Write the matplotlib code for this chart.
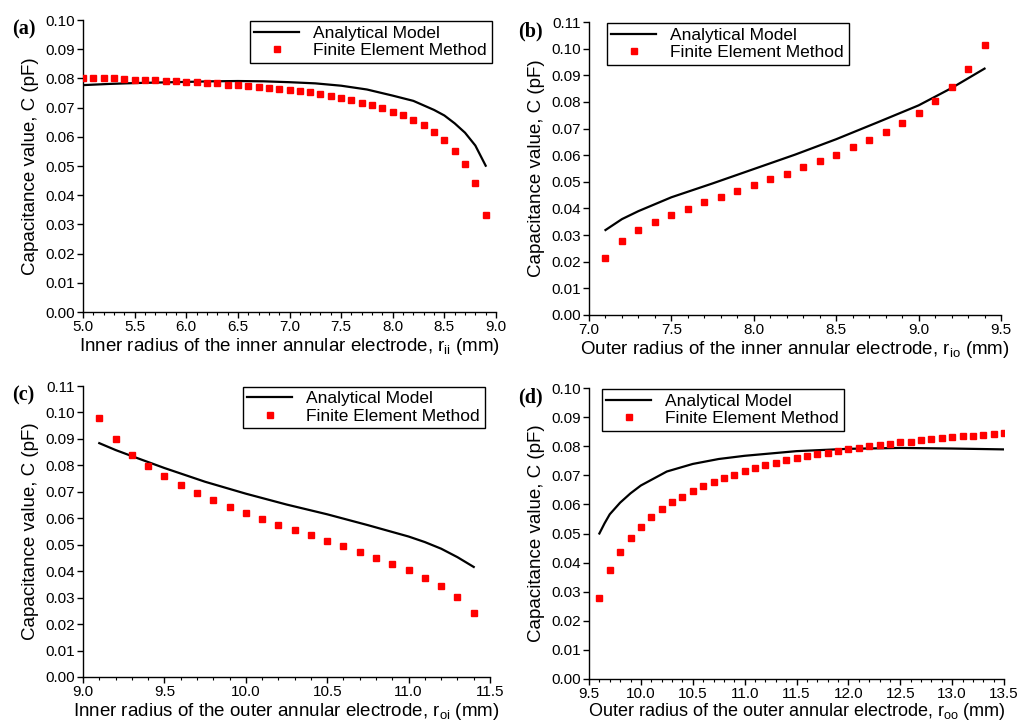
import matplotlib
matplotlib.use("Agg")
import matplotlib.pyplot as plt
from matplotlib.ticker import MultipleLocator, FormatStrFormatter

plt.rcParams['font.family'] = ['Liberation Sans', 'DejaVu Sans']
plt.rcParams['mathtext.fontset'] = 'custom'
plt.rcParams['mathtext.rm'] = 'Liberation Sans'
plt.rcParams['mathtext.it'] = 'Liberation Sans'
plt.rcParams['mathtext.default'] = 'regular'

# ---------------- data ----------------
# (a) inner radius of inner annular electrode
a_fem_x = [5.0, 5.1, 5.2, 5.3, 5.4, 5.5, 5.6, 5.7, 5.8, 5.9, 6.0, 6.1, 6.2, 6.3, 6.4, 6.5, 6.6, 6.7, 6.8, 6.9,
           7.0, 7.1, 7.2, 7.3, 7.4, 7.5, 7.6, 7.7, 7.8, 7.9, 8.0, 8.1, 8.2, 8.3, 8.4, 8.5, 8.6, 8.7, 8.8, 8.9]
a_fem_y = [0.0801, 0.0801, 0.0800, 0.0800, 0.0799, 0.0796, 0.0795, 0.0794, 0.0792, 0.0791,
           0.0788, 0.0787, 0.0785, 0.0783, 0.0779, 0.0777, 0.0775, 0.0771, 0.0768, 0.0764,
           0.0761, 0.0756, 0.0752, 0.0746, 0.0739, 0.0733, 0.0727, 0.0717, 0.0708, 0.0698,
           0.0686, 0.0673, 0.0658, 0.0640, 0.0616, 0.0589, 0.0553, 0.0508, 0.0443, 0.0333]
a_ana_x = [5.0, 5.25, 5.5, 5.75, 6.0, 6.25, 6.5, 6.75, 7.0, 7.25, 7.5, 7.75, 8.0, 8.2, 8.4, 8.5, 8.6, 8.7, 8.8, 8.9]
a_ana_y = [0.0777, 0.0781, 0.0784, 0.0786, 0.0788, 0.0790, 0.0791, 0.0790, 0.0787, 0.0783,
           0.0775, 0.0762, 0.0741, 0.0723, 0.0692, 0.0673, 0.0646, 0.0614, 0.0570, 0.0501]

# (b) outer radius of inner annular electrode
b_fem_x = [7.1, 7.2, 7.3, 7.4, 7.5, 7.6, 7.7, 7.8, 7.9, 8.0, 8.1, 8.2, 8.3, 8.4, 8.5, 8.6, 8.7, 8.8, 8.9,
           9.0, 9.1, 9.2, 9.3, 9.4]
b_fem_y = [0.0215, 0.0279, 0.0318, 0.0349, 0.0375, 0.0399, 0.0423, 0.0444, 0.0467, 0.0488,
           0.0509, 0.0531, 0.0554, 0.0578, 0.0602, 0.0630, 0.0657, 0.0687, 0.0721, 0.0760,
           0.0804, 0.0856, 0.0925, 0.1013]
b_ana_x = [7.1, 7.2, 7.3, 7.4, 7.5, 7.75, 8.0, 8.25, 8.5, 8.75, 9.0, 9.2, 9.4]
b_ana_y = [0.0319, 0.0360, 0.0390, 0.0416, 0.0442, 0.0494, 0.0548, 0.0602, 0.0660, 0.0723,
           0.0787, 0.0852, 0.0925]

# (c) inner radius of outer annular electrode
c_fem_x = [9.1, 9.2, 9.3, 9.4, 9.5, 9.6, 9.7, 9.8, 9.9, 10.0, 10.1, 10.2, 10.3, 10.4, 10.5, 10.6,
           10.7, 10.8, 10.9, 11.0, 11.1, 11.2, 11.3, 11.4]
c_fem_y = [0.0980, 0.0901, 0.0841, 0.0797, 0.0758, 0.0725, 0.0695, 0.0669, 0.0644, 0.0621,
           0.0598, 0.0576, 0.0554, 0.0535, 0.0514, 0.0494, 0.0472, 0.0450, 0.0428, 0.0403,
           0.0375, 0.0344, 0.0304, 0.0242]
c_ana_x = [9.1, 9.2, 9.3, 9.5, 9.75, 10.0, 10.25, 10.5, 10.75, 11.0, 11.1, 11.2, 11.3, 11.4]
c_ana_y = [0.0884, 0.0858, 0.0835, 0.0790, 0.0738, 0.0693, 0.0652, 0.0615, 0.0574, 0.0531,
           0.0510, 0.0485, 0.0453, 0.0416]

# (d) outer radius of outer annular electrode
d_fem_x = [9.6, 9.7, 9.8, 9.9, 10.0, 10.1, 10.2, 10.3, 10.4, 10.5, 10.6, 10.7, 10.8, 10.9, 11.0,
           11.1, 11.2, 11.3, 11.4, 11.5, 11.6, 11.7, 11.8, 11.9, 12.0, 12.1, 12.2, 12.3, 12.4,
           12.5, 12.6, 12.7, 12.8, 12.9, 13.0, 13.1, 13.2, 13.3, 13.4, 13.5]
d_fem_y = [0.0277, 0.0374, 0.0438, 0.0485, 0.0524, 0.0556, 0.0583, 0.0607, 0.0627, 0.0645,
           0.0663, 0.0677, 0.0690, 0.0702, 0.0715, 0.0725, 0.0734, 0.0743, 0.0751, 0.0758,
           0.0766, 0.0772, 0.0778, 0.0784, 0.0790, 0.0794, 0.0799, 0.0805, 0.0809, 0.0813,
           0.0816, 0.0822, 0.0825, 0.0827, 0.0831, 0.0834, 0.0835, 0.0839, 0.0842, 0.0844]
d_ana_x = [9.6, 9.65, 9.7, 9.8, 9.9, 10.0, 10.25, 10.5, 10.75, 11.0, 11.5, 12.0, 12.5, 13.0, 13.5]
d_ana_y = [0.0500, 0.0535, 0.0566, 0.0606, 0.0638, 0.0665, 0.0713, 0.0739, 0.0756, 0.0767,
           0.0783, 0.0791, 0.0794, 0.0792, 0.0789]

panel_letters = ["(a)", "(b)", "(c)", "(d)"]
x_labels = [
    "Inner radius of the inner annular electrode, r$_{ii}$ (mm)",
    "Outer radius of the inner annular electrode, r$_{io}$ (mm)",
    "Inner radius of the outer annular electrode, r$_{oi}$ (mm)",
    "Outer radius of the outer annular electrode, r$_{oo}$ (mm)",
]
y_label = "Capacitance value, C (pF)"
legend_labels = ["Analytical Model", "Finite Element Method"]

# ---------------- figure ----------------
W, H = 1019, 722
fig = plt.figure(figsize=(W / 100, H / 100), dpi=100)

def px_axes(l, t, r, b):
    return fig.add_axes([l / W, 1 - b / H, (r - l) / W, (b - t) / H])

panels = [
    dict(box=(83, 20, 496, 312), xlim=(5.0, 9.0), ylim=(0.0, 0.10),
         fx=a_fem_x, fy=a_fem_y, ax_=a_ana_x, ay=a_ana_y, leg=(250, 20, 492, 64)),
    dict(box=(589, 22, 1001, 315), xlim=(7.0, 9.5), ylim=(0.0, 0.11),
         fx=b_fem_x, fy=b_fem_y, ax_=b_ana_x, ay=b_ana_y, leg=(607, 22, 849, 66)),
    dict(box=(83, 386, 490, 677), xlim=(9.0, 11.5), ylim=(0.0, 0.11),
         fx=c_fem_x, fy=c_fem_y, ax_=c_ana_x, ay=c_ana_y, leg=(243, 385, 485, 430)),
    dict(box=(589, 388, 1004, 679), xlim=(9.5, 13.5), ylim=(0.0, 0.10),
         fx=d_fem_x, fy=d_fem_y, ax_=d_ana_x, ay=d_ana_y, leg=(602, 388, 844, 432)),
]

for i, p in enumerate(panels):
    l, t, r, b = p['box']
    ax = px_axes(l, t, r, b)
    ax.plot(p['ax_'], p['ay'], color='black', lw=1.6, label=legend_labels[0], zorder=2)
    ax.plot(p['fx'], p['fy'], ls='none', marker='s', ms=5, color='#ff0000',
            mec='#ff0000', label=legend_labels[1], zorder=3)
    ax.set_xlim(*p['xlim'])
    ax.set_ylim(*p['ylim'])
    ax.spines['top'].set_visible(False)
    ax.spines['right'].set_visible(False)
    for s in ('left', 'bottom'):
        ax.spines[s].set_linewidth(1.0)
    ax.xaxis.set_major_locator(MultipleLocator(0.5))
    ax.xaxis.set_minor_locator(MultipleLocator(0.1))
    ax.yaxis.set_major_locator(MultipleLocator(0.01))
    ax.xaxis.set_major_formatter(FormatStrFormatter('%.1f'))
    ax.yaxis.set_major_formatter(FormatStrFormatter('%.2f'))
    ax.tick_params(axis='both', which='major', direction='out', length=4, width=1,
                   labelsize=11, pad=2, colors='black')
    ax.tick_params(axis='x', which='minor', direction='out', length=2.2, width=0.8)
    if i == 3:
        ax.set_xlabel(x_labels[i], fontsize=13, labelpad=0)
    else:
        ax.set_xlabel(x_labels[i], fontsize=13.5, labelpad=1)
    ax.set_ylabel(y_label, fontsize=13.5, labelpad=4)

    ll, lt, lr, lb = p['leg']
    bbox = ((ll - l) / (r - l), 1 - (lb - t) / (b - t), (lr - ll) / (r - l), (lb - lt) / (b - t))
    leg = ax.legend(loc='center', bbox_to_anchor=bbox, mode='expand', fontsize=12.5,
                    frameon=True, fancybox=False, edgecolor='black', framealpha=1,
                    borderaxespad=0, handlelength=2.6, handletextpad=0.8,
                    labelspacing=0.15, borderpad=0.25, numpoints=1)
    leg.get_frame().set_linewidth(1.0)

    fig.text((l - 71) / W, 1 - (t - 1) / H, panel_letters[i], fontsize=14.5, fontweight='bold',
             family=['Liberation Serif', 'DejaVu Serif'], va='top', ha='left')

fig.savefig("out.png", dpi=100)
